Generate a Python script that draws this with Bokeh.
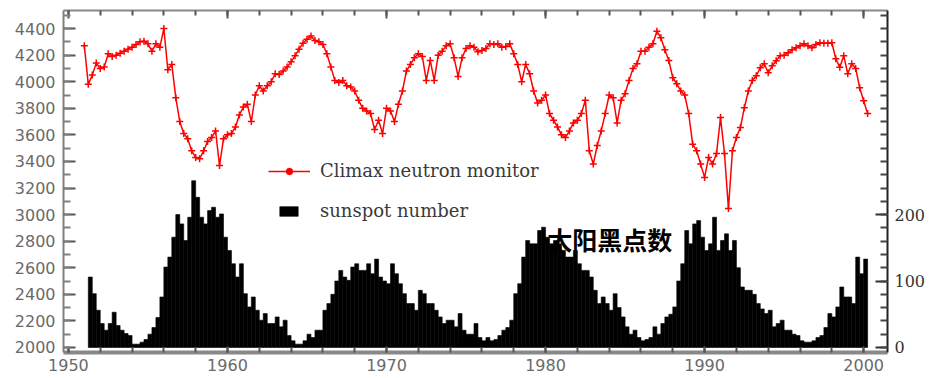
import numpy as np
from bokeh.plotting import figure
from bokeh.models import Range1d, LinearAxis, FixedTicker, Legend, LegendItem, Label, ColumnDataSource
from bokeh.embed import file_html
from bokeh.resources import INLINE

# ---------------- data ----------------
neutron_start = 1951.0      # quarterly samples
neutron_counts = [
    4270, 3980, 4050, 4140,  # 1951
    4100, 4110, 4210, 4190,  # 1952
    4200, 4215, 4230, 4245,  # 1953
    4260, 4280, 4300, 4305,  # 1954
    4285, 4230, 4285, 4260,  # 1955
    4400, 4090, 4130, 3880,  # 1956
    3700, 3610, 3570, 3480,  # 1957
    3430, 3420, 3480, 3550,  # 1958
    3580, 3630, 3370, 3570,  # 1959
    3600, 3610, 3660, 3750,  # 1960
    3810, 3830, 3700, 3900,  # 1961
    3970, 3930, 3970, 4000,  # 1962
    4060, 4055, 4080, 4110,  # 1963
    4150, 4195, 4245, 4290,  # 1964
    4320, 4345, 4310, 4300,  # 1965
    4280, 4210, 4110, 4010,  # 1966
    3995, 4010, 3970, 3960,  # 1967
    3930, 3860, 3800, 3780,  # 1968
    3760, 3640, 3710, 3610,  # 1969
    3800, 3780, 3700, 3830,  # 1970
    3930, 4080, 4130, 4180,  # 1971
    4210, 4190, 4010, 4160,  # 1972
    4010, 4200, 4230, 4270,  # 1973
    4285, 4180, 4040, 4180,  # 1974
    4250, 4270, 4260, 4225,  # 1975
    4235, 4250, 4285, 4280,  # 1976
    4285, 4260, 4265, 4285,  # 1977
    4210, 4130, 4000, 4130,  # 1978
    4060, 3930, 3840, 3860,  # 1979
    3900, 3760, 3710, 3660,  # 1980
    3600, 3580, 3630, 3690,  # 1981
    3710, 3760, 3860, 3480,  # 1982
    3380, 3520, 3630, 3760,  # 1983
    3900, 3880, 3690, 3860,  # 1984
    3910, 4010, 4100, 4135,  # 1985
    4230, 4230, 4260, 4285,  # 1986
    4380, 4330, 4240, 4160,  # 1987
    4030, 3985, 3930, 3900,  # 1988
    3760, 3530, 3480, 3380,  # 1989
    3280, 3430, 3380, 3460,  # 1990
    3730, 3460, 3045, 3480,  # 1991
    3580, 3655, 3805, 3930,  # 1992
    4010, 4045, 4105, 4135,  # 1993
    4068, 4120, 4158, 4195,  # 1994
    4200, 4218, 4240, 4255,  # 1995
    4270, 4285, 4270, 4255,  # 1996
    4280, 4293, 4290, 4290,  # 1997
    4293, 4173, 4108, 4195,  # 1998
    4060, 4135, 4100, 3955,  # 1999
    3857, 3760,              # 2000
]

sunspot_start = 1951.25     # quarterly bars
sunspot_number = [
    106, 81, 56,             # 1951
    36, 26, 36, 53,          # 1952
    33, 26, 21, 18,          # 1953
    5, 5, 8, 12,             # 1954
    20, 30, 45, 76,          # 1955
    121, 136, 166, 200,      # 1956
    186, 161, 196, 251,      # 1957
    226, 196, 186, 206,      # 1958
    211, 196, 201, 166,      # 1959
    146, 126, 106, 126,      # 1960
    81, 61, 76, 56,          # 1961
    41, 51, 36, 36,          # 1962
    46, 31, 41, 18,          # 1963
    10, 5, 5, 10,            # 1964
    20, 15, 26, 26,          # 1965
    56, 66, 80, 100,         # 1966
    116, 106, 101, 121,      # 1967
    126, 116, 116, 126,      # 1968
    111, 133, 106, 100,      # 1969
    96, 126, 111, 96,        # 1970
    81, 66, 66, 56,          # 1971
    86, 81, 66, 66,          # 1972
    56, 46, 36, 41,          # 1973
    41, 31, 51, 26,          # 1974
    20, 20, 36, 15,          # 1975
    10, 15, 10, 12,          # 1976
    18, 26, 30, 41,          # 1977
    81, 96, 136, 161,        # 1978
    156, 156, 176, 181,      # 1979
    166, 156, 161, 156,      # 1980
    146, 136, 136, 146,      # 1981
    126, 116, 116, 106,      # 1982
    86, 66, 76, 66,          # 1983
    56, 81, 60, 46,          # 1984
    31, 20, 26, 15,          # 1985
    10, 12, 15, 31,          # 1986
    20, 36, 46, 50,          # 1987
    61, 100, 126, 176,       # 1988
    156, 186, 191, 166,      # 1989
    146, 156, 196, 146,      # 1990
    161, 171, 146, 161,      # 1991
    120, 91, 86, 86,         # 1992
    80, 66, 58, 51,          # 1993
    56, 31, 36, 41,          # 1994
    26, 26, 20, 18,          # 1995
    10, 8, 8, 10,            # 1996
    15, 18, 30, 51,          # 1997
    46, 61, 91, 76,          # 1998
    76, 66, 136, 111,        # 1999
    133,                     # 2000
]

x_major = [1950, 1960, 1970, 1980, 1990, 2000]
x_minor = list(range(1950, 2001, 2))
left_major = list(range(2000, 4401, 200))
left_minor = list(range(2000, 4501, 100))
right_major = [0, 100, 200]
right_minor = list(range(0, 501, 20))

legend_neutron = "Climax neutron monitor"
legend_sunspot = "sunspot number"
overlay_text = "太阳黑点数"

# ---------------- figure ----------------
step = 0.25
t_n = neutron_start + step * np.arange(len(neutron_counts))
t_s = sunspot_start + step / 2 + step * np.arange(len(sunspot_number))

p = figure(width=928, height=376,
           x_range=Range1d(1949.69, 2001.5), y_range=Range1d(1962, 4536),
           output_backend="svg", toolbar_location=None,
           min_border_left=63, min_border_right=40, min_border_top=10, min_border_bottom=24)
p.extra_y_ranges = {"sun": Range1d(-7.6, 507.2)}
p.outline_line_color = None
p.xgrid.visible = False
p.ygrid.visible = False

src_s = ColumnDataSource(dict(t=t_s, s=sunspot_number))
bars = p.vbar(x="t", top="s", bottom=0, width=step, source=src_s, y_range_name="sun",
              fill_color="black", line_color="black", line_width=0.6)

src_n = ColumnDataSource(dict(t=t_n, v=neutron_counts))
line_r = p.line("t", "v", source=src_n, line_color="#ff0000", line_width=1.5)
p.scatter("t", "v", source=src_n, marker="cross", size=7, line_color="#ff0000", line_width=1.5)
# legend-only marker (kept hidden on the plot, drawn in the legend)
dummy = p.scatter(x=t_n[:1], y=neutron_counts[:1], marker="circle", size=10,
                  fill_color="#ff0000", line_color="#ff0000", visible=False)

# axes
la = p.yaxis[0]
la.ticker = FixedTicker(ticks=left_major, minor_ticks=left_minor)
ba = p.xaxis[0]
ba.ticker = FixedTicker(ticks=x_major, minor_ticks=x_minor)
ra = LinearAxis(y_range_name="sun", ticker=FixedTicker(ticks=right_major, minor_ticks=right_minor))
ta = LinearAxis(ticker=FixedTicker(ticks=x_major, minor_ticks=x_minor))
p.add_layout(ra, "right")
p.add_layout(ta, "above")

for ax in (la, ba, ra, ta):
    ax.major_tick_out = 0
    ax.minor_tick_out = 0
    ax.major_tick_in = 12
    ax.minor_tick_in = 7
    ax.axis_line_width = 2
    ax.major_tick_line_width = 2
    ax.minor_tick_line_width = 2
    ax.major_label_text_font = "DejaVu Sans"
    ax.major_label_text_font_size = "16px"
    ax.major_label_text_color = "#6a6a6a"
    ax.major_label_standoff = 8

la.axis_line_color = "#808080"
la.major_tick_line_color = "#555555"
la.minor_tick_line_color = "#808080"
ba.axis_line_color = "#888888"
ba.axis_line_width = 4
ba.major_tick_in = 6
ba.minor_tick_in = 5
ba.major_tick_line_color = "#555555"
ba.minor_tick_line_color = "#555555"
ba.major_label_standoff = 6
ta.axis_line_color = "#888888"
ta.major_tick_in = 8
ta.minor_tick_in = 5
ta.major_tick_line_color = "#555555"
ta.minor_tick_line_color = "#555555"
ta.major_label_text_font_size = "1px"
ta.major_label_text_color = None
ta.major_label_standoff = 0
ra.axis_line_color = "#222222"
ra.major_tick_line_color = "#333333"
ra.minor_tick_line_color = "#444444"
ra.major_label_text_font = "DejaVu Serif"
ra.major_label_text_color = "#333333"
ra.major_label_standoff = 7

common = dict(padding=0, margin=0, spacing=0, border_line_color=None,
              background_fill_alpha=0, label_text_font="DejaVu Serif",
              label_text_font_size="18px", label_text_color="#3a3a3a")
leg1 = Legend(items=[LegendItem(label=legend_neutron, renderers=[line_r, dummy])],
              location=(205, 171), glyph_width=42, glyph_height=16, label_height=16,
              label_standoff=10, **common)
leg2 = Legend(items=[LegendItem(label=legend_sunspot, renderers=[bars])],
              location=(214, 131), glyph_width=23, glyph_height=12, label_height=12,
              label_standoff=20, **common)
p.add_layout(leg1, "center")
p.add_layout(leg2, "center")

p.add_layout(Label(x=1980.1, y=2813, text=overlay_text, text_font="Noto Sans CJK SC",
                   text_font_style="bold", text_font_size="25px", text_baseline="middle",
                   text_color="black"))

open("out.html", "w").write(file_html(p, INLINE))
